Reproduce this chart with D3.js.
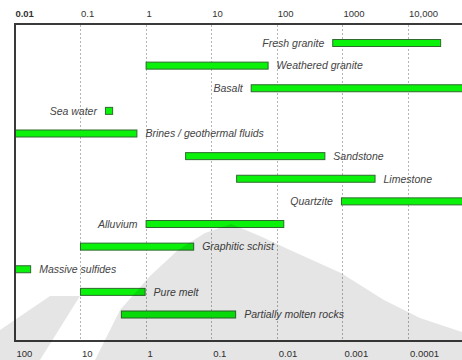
<!DOCTYPE html>
<html>
<head>
<meta charset="utf-8">
<script src="https://cdn.jsdelivr.net/npm/d3@7"></script>
<style>
  body { margin: 0; background: #fff; }
  text { font-family: "Liberation Sans", Arial, Helvetica, sans-serif; }
</style>
</head>
<body>
<svg id="chart" width="462" height="360"></svg>
<script>
// Electrical resistivity ranges (ohm·m) of common earth materials
const materials = [
  "Fresh granite", "Weathered granite", "Basalt", "Sea water",
  "Brines / geothermal fluids", "Sandstone", "Limestone", "Quartzite",
  "Alluvium", "Graphitic schist", "Massive sulfides", "Pure melt",
  "Partially molten rocks"
];
const resistivityLow  = [700, 1, 40, 0.24, 0.01, 4, 24, 950, 1, 0.1, 0.01, 0.1, 0.42];
const resistivityHigh = [32000, 75, 100000, 0.32, 0.75, 550, 3200, 100000, 130, 5.5, 0.018, 1, 24];

// Upper axis: resistivity (ohm·m); lower axis: conductivity (S/m)
const resistivityTicks  = [0.01, 0.1, 1, 10, 100, 1000, 10000];
const resistivityLabels = ["0.01", "0.1", "1", "10", "100", "1000", "10,000"];
const conductivityTicks  = [100, 10, 1, 0.1, 0.01, 0.001, 0.0001];
const conductivityLabels = ["100", "10", "1", "0.1", "0.01", "0.001", "0.0001"];

// Materials whose name sits to the left of the bar
const nameBeforeBar = new Set(["Fresh granite", "Basalt", "Sea water", "Quartzite", "Alluvium"]);

const W = 462, H = 360;
const plot = { left: 15, top: 24, bottom: 341 };

const svg = d3.select("#chart");

const x = d3.scaleLog().domain([0.01, 100000]).range([14.4, 473.6]);
const xc = d3.scaleLog().domain([100, 0.00001]).range([14.4, 473.6]);
const y = d3.scalePoint().domain(materials).range([43, 314.5]);

// dotted decade gridlines
svg.append("g")
  .selectAll("line")
  .data(resistivityTicks.slice(1))
  .join("line")
  .attr("x1", d => Math.round(x(d)) + 0.5)
  .attr("x2", d => Math.round(x(d)) + 0.5)
  .attr("y1", plot.top + 1)
  .attr("y2", plot.bottom - 1)
  .attr("stroke", "#b4b4b4")
  .attr("stroke-width", 1)
  .attr("stroke-dasharray", "2,2");

// resistivity range bars
const barH = 7;
svg.append("g")
  .selectAll("rect")
  .data(materials)
  .join("rect")
  .attr("x", (d, i) => x(resistivityLow[i]) + 0.5)
  .attr("y", d => y(d) - barH / 2)
  .attr("width", (d, i) => x(resistivityHigh[i]) - x(resistivityLow[i]) - 1)
  .attr("height", barH)
  .attr("fill", "#0af20a")
  .attr("stroke", "#2f6a2f")
  .attr("stroke-width", 1);

// material names
svg.append("g")
  .selectAll("text")
  .data(materials)
  .join("text")
  .attr("x", (d, i) => nameBeforeBar.has(d) ? x(resistivityLow[i]) - 8 : x(resistivityHigh[i]) + 8)
  .attr("y", d => y(d) + 3.8)
  .attr("text-anchor", d => nameBeforeBar.has(d) ? "end" : "start")
  .attr("font-size", 10.5)
  .attr("font-style", "italic")
  .attr("fill", "#444")
  .text(d => d);

// frame lines
const frame = svg.append("g").attr("stroke", "#3a3a3a").attr("stroke-width", 2);
frame.append("line").attr("x1", plot.left - 1).attr("x2", W).attr("y1", plot.top).attr("y2", plot.top);
frame.append("line").attr("x1", plot.left - 1).attr("x2", W).attr("y1", plot.bottom).attr("y2", plot.bottom);
frame.append("line").attr("x1", plot.left).attr("x2", plot.left).attr("y1", plot.top).attr("y2", plot.bottom);

// top axis: resistivity
const topAxis = svg.append("g")
  .attr("transform", "translate(0,20)")
  .call(d3.axisTop(x).tickValues(resistivityTicks)
    .tickFormat((d, i) => resistivityLabels[i]).tickSize(0).tickPadding(3));
topAxis.select(".domain").remove();
topAxis.selectAll("text")
  .attr("text-anchor", "start")
  .attr("dx", 0.5)
  .attr("font-size", 9.5)
  .attr("fill", "#333")
  .attr("font-weight", (d, i) => i === 0 ? "bold" : null);

// bottom axis: conductivity
const bottomAxis = svg.append("g")
  .attr("transform", "translate(0,357)")
  .call(d3.axisBottom(xc).tickValues(conductivityTicks)
    .tickFormat((d, i) => conductivityLabels[i]).tickSize(0).tickPadding(0));
bottomAxis.select(".domain").remove();
bottomAxis.selectAll("text")
  .attr("text-anchor", "start")
  .attr("y", 0)
  .attr("dy", 0)
  .attr("dx", 1.5)
  .attr("font-size", 9.5)
  .attr("fill", "#333");

// faint emblem shading across the lower part of the page
svg.append("path")
  .attr("d", "M95,360 L120,310 L150,276 L178,250 L205,233 L231,224 L260,236 L290,250 L341,273 L384,300 L420,318 L462,332 L462,360 Z M0,330 L50,296 L80,296 L40,360 L0,360 Z")
  .attr("fill", "#000")
  .attr("fill-opacity", 0.1)
  .attr("pointer-events", "none");
</script>
</body>
</html>
